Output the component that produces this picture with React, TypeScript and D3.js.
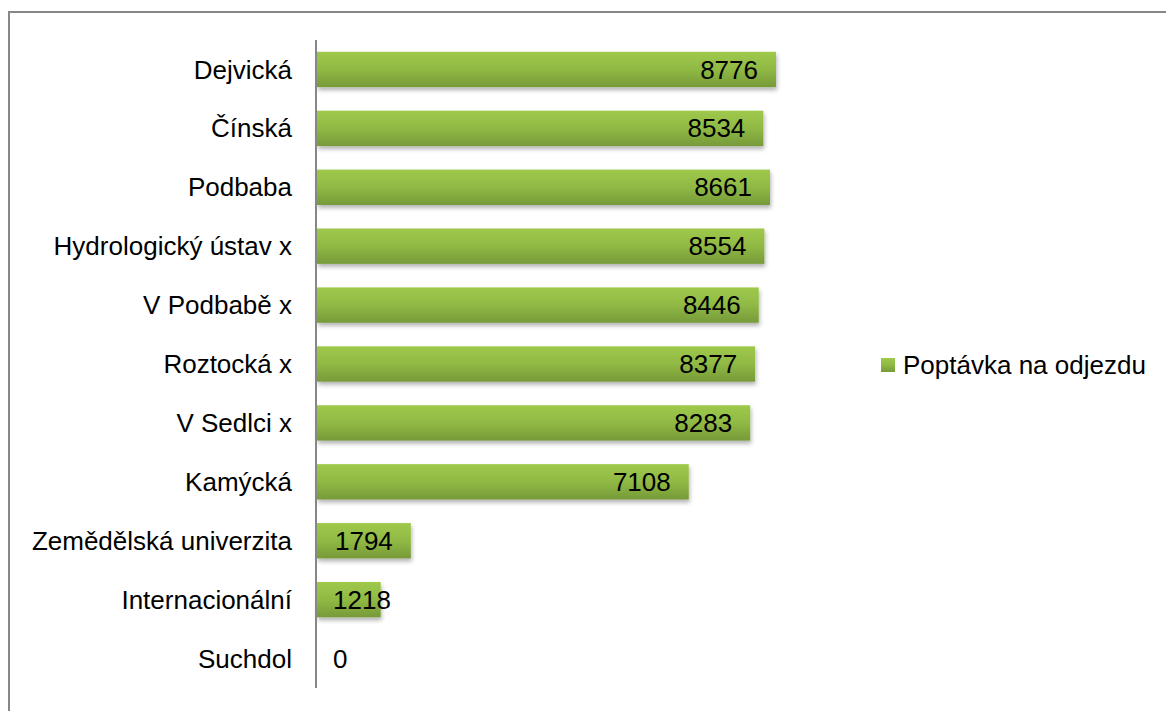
import React, {useEffect, useRef} from "react";
import * as d3 from "d3";

const categories = [
    "Dejvická",
    "Čínská",
    "Podbaba",
    "Hydrologický ústav x",
    "V Podbabě x",
    "Roztocká x",
    "V Sedlci x",
    "Kamýcká",
    "Zemědělská univerzita",
    "Internacionální",
    "Suchdol",
];
const values = [8776, 8534, 8661, 8554, 8446, 8377, 8283, 7108, 1794, 1218, 0];
const seriesName = "Poptávka na odjezdu";

const App: React.FC = () => {
    const svgRef = useRef<SVGSVGElement | null>(null);

    useEffect(() => {
        if (!svgRef.current) return;
        const svg = d3.select(svgRef.current);
        svg.selectAll("*").remove();

        const width = 1166;
        const height = 711;
        const font = "'Liberation Sans', Arial, sans-serif";
        const fontSize = "26px";

        // chart border (runs off the right/bottom edge like the original)
        svg.append("rect")
            .attr("x", 9)
            .attr("y", 12)
            .attr("width", width + 20)
            .attr("height", height + 20)
            .attr("fill", "white")
            .attr("stroke", "#878787")
            .attr("stroke-width", 2);

        const defs = svg.append("defs");
        const grad = defs.append("linearGradient")
            .attr("id", "barGrad")
            .attr("x1", 0).attr("y1", 0).attr("x2", 0).attr("y2", 1);
        grad.append("stop").attr("offset", "0%").attr("stop-color", "#9ec94b");
        grad.append("stop").attr("offset", "50%").attr("stop-color", "#90b944");
        grad.append("stop").attr("offset", "100%").attr("stop-color", "#769a39");

        const shadow = defs.append("filter")
            .attr("id", "barShadow")
            .attr("x", "-5%").attr("y", "-20%")
            .attr("width", "115%").attr("height", "160%");
        shadow.append("feDropShadow")
            .attr("dx", 1).attr("dy", 3)
            .attr("stdDeviation", 2)
            .attr("flood-color", "#000")
            .attr("flood-opacity", 0.3);

        const x = d3.scaleLinear()
            .domain([0, 8776])
            .range([317, 776]);

        const y = d3.scaleBand()
            .domain(categories)
            .range([40, 688])
            .paddingInner(0.4)
            .paddingOuter(0.2);

        // bars
        svg.append("g")
            .selectAll("rect")
            .data(values)
            .join("rect")
            .attr("x", x(0))
            .attr("y", (_, i) => y(categories[i]) || 0)
            .attr("width", (d) => x(d) - x(0))
            .attr("height", y.bandwidth())
            .attr("fill", "url(#barGrad)")
            .attr("filter", (d) => (d > 0 ? "url(#barShadow)" : null));

        // axis line
        svg.append("line")
            .attr("x1", 316).attr("x2", 316)
            .attr("y1", 40).attr("y2", 688)
            .attr("stroke", "#878787")
            .attr("stroke-width", 2);

        // category labels
        svg.append("g")
            .selectAll("text")
            .data(categories)
            .join("text")
            .attr("x", 292)
            .attr("y", (d) => (y(d) || 0) + y.bandwidth() / 2)
            .attr("dy", "0.35em")
            .attr("text-anchor", "end")
            .attr("font-family", font)
            .attr("font-size", fontSize)
            .attr("fill", "#000")
            .text((d) => d);

        // value labels (inside end, clamped to the bar start)
        const labels = svg.append("g")
            .selectAll("text")
            .data(values)
            .join("text")
            .attr("y", (_, i) => (y(categories[i]) || 0) + y.bandwidth() / 2)
            .attr("dy", "0.35em")
            .attr("font-family", font)
            .attr("font-size", fontSize)
            .attr("fill", "#000")
            .text((d) => String(d));
        labels.each(function (d) {
            const el = this as SVGTextElement;
            const w = el.getComputedTextLength();
            const start = Math.max(x(d) - 18 - w, x(0) + 16);
            d3.select(el).attr("x", start);
        });

        // legend
        const lg = svg.append("g").attr("transform", "translate(881,358)");
        lg.append("rect")
            .attr("width", 14).attr("height", 14)
            .attr("fill", "url(#barGrad)");
        lg.append("text")
            .attr("x", 22)
            .attr("y", 7)
            .attr("dy", "0.35em")
            .attr("font-family", font)
            .attr("font-size", fontSize)
            .attr("fill", "#000")
            .text(seriesName);
    }, []);

    return (
        <div style={{position: "absolute", left: 0, top: 0, width: 1166, height: 711, overflow: "hidden"}}>
            <svg ref={svgRef} width={1166} height={711} viewBox="0 0 1166 711"></svg>
        </div>
    );
};

export default App;
